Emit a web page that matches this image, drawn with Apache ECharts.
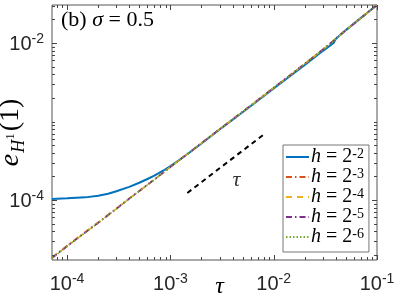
<!DOCTYPE html>
<html>
<head>
<meta charset="utf-8">
<script src="https://cdn.jsdelivr.net/npm/echarts@6/dist/echarts.min.js"></script>
<style>html,body{margin:0;padding:0;background:#fff}#c{width:395px;height:296px}</style>
</head>
<body>
<div id="c"></div>
<script>
// ---- data ----
const tau = [7.15e-5, 1e-4, 1.5e-4, 2e-4, 2.5e-4, 3e-4, 4e-4, 5e-4, 6e-4, 7e-4, 8.5e-4, 1e-3, 1.2e-3, 1.5e-3, 2e-3, 3e-3, 5e-3, 7e-3, 1e-2, 1.5e-2, 2e-2, 3e-2, 3.8e-2, 4e-2, 5e-2, 7e-2, 1e-1];
const eH2 = [1.03e-4, 1.05e-4, 1.08e-4, 1.13e-4, 1.2e-4, 1.29e-4, 1.47e-4, 1.66e-4, 1.85e-4, 2.04e-4, 2.36e-4, 2.7e-4, 3.18e-4, 3.94e-4, 5.25e-4, 7.9e-4, 1.31e-3, 1.84e-3, 2.64e-3, 3.95e-3, 5.25e-3, 7.95e-3, 1.0e-2, 1.13e-2, 1.46e-2, 2.09e-2, 3.05e-2];
const eH3 = [1.86e-5, 2.62e-5, 3.92e-5, 5.2e-5, 6.5e-5, 7.8e-5, 1.05e-4, 1.31e-4, 1.57e-4, 1.83e-4, 2.23e-4, 2.64e-4, 3.17e-4, 3.96e-4, 5.3e-4, 8.0e-4, 1.33e-3, 1.87e-3, 2.69e-3, 4.05e-3, 5.45e-3, 8.3e-3, 1.07e-2, 1.14e-2, 1.46e-2, 2.09e-2, 3.05e-2];
const eH4 = [1.83e-5, 2.58e-5, 3.86e-5, 5.12e-5, 6.42e-5, 7.72e-5, 1.04e-4, 1.30e-4, 1.56e-4, 1.82e-4, 2.22e-4, 2.63e-4, 3.16e-4, 3.95e-4, 5.3e-4, 8.0e-4, 1.33e-3, 1.87e-3, 2.69e-3, 4.05e-3, 5.45e-3, 8.3e-3, 1.07e-2, 1.14e-2, 1.46e-2, 2.09e-2, 3.05e-2];
const eH5 = [1.82e-5, 2.57e-5, 3.85e-5, 5.1e-5, 6.4e-5, 7.7e-5, 1.04e-4, 1.30e-4, 1.56e-4, 1.82e-4, 2.22e-4, 2.63e-4, 3.16e-4, 3.95e-4, 5.3e-4, 8.0e-4, 1.33e-3, 1.87e-3, 2.69e-3, 4.05e-3, 5.45e-3, 8.3e-3, 1.07e-2, 1.14e-2, 1.46e-2, 2.09e-2, 3.05e-2];
const eH6 = [1.82e-5, 2.57e-5, 3.85e-5, 5.1e-5, 6.4e-5, 7.7e-5, 1.04e-4, 1.30e-4, 1.56e-4, 1.82e-4, 2.22e-4, 2.63e-4, 3.16e-4, 3.95e-4, 5.3e-4, 8.0e-4, 1.33e-3, 1.87e-3, 2.69e-3, 4.05e-3, 5.45e-3, 8.3e-3, 1.07e-2, 1.14e-2, 1.46e-2, 2.09e-2, 3.05e-2];
const seriesNames = ['h2', 'h3', 'h4', 'h5', 'h6'];
const seriesExps = ['-2', '-3', '-4', '-5', '-6'];
const refTau = [1.46e-3, 7.9e-3];
const refE = [1.23e-4, 6.73e-4];
const refLabelPos = [4.35e-3, 1.8e-4];
const refLabel = 'τ';
const xMin = 7.15e-5, xMax = 0.1;
const yMin = 1.72e-5, yMax = 0.0305;
const xMajorTicks = [1e-4, 1e-3, 1e-2, 1e-1];
const xMinorTicks = [8e-5, 9e-5, 2e-4, 3e-4, 4e-4, 5e-4, 6e-4, 7e-4, 8e-4, 9e-4, 2e-3, 3e-3, 4e-3, 5e-3, 6e-3, 7e-3, 8e-3, 9e-3, 2e-2, 3e-2, 4e-2, 5e-2, 6e-2, 7e-2, 8e-2, 9e-2];
const yMajorTicks = [1e-4, 1e-2];
const yMinorTicks = [2e-5, 3e-5, 4e-5, 5e-5, 6e-5, 7e-5, 8e-5, 9e-5, 2e-4, 3e-4, 4e-4, 5e-4, 6e-4, 7e-4, 8e-4, 9e-4, 1e-3, 2e-3, 3e-3, 4e-3, 5e-3, 6e-3, 7e-3, 8e-3, 9e-3, 2e-2, 3e-2];
const xLabelExps = {'-4': '-4', '-3': '-3', '-2': '-2', '-1': '-1'};
const yLabelExps = {'-4': '-4', '-2': '-2'};

const colors = ['#0072BD', '#D95319', '#EDB120', '#7E2F8E', '#77AC30'];
const dashes = ['solid', [6, 3, 1.5, 3], [6, 5], [6, 3, 1.5, 3], [1.5, 2]];
const widths = [2, 1.6, 1.6, 1.6, 1.6];
const allE = [eH2, eH3, eH4, eH5, eH6];

const chart = echarts.init(document.getElementById('c'), null, {renderer: 'canvas'});

function expOf(v) {
  const e = Math.log10(v);
  const r = Math.round(e);
  return Math.abs(e - r) < 1e-6 ? String(r) : null;
}
const tickColor = '#444';
const labelRich = {
  b: {fontFamily: 'Liberation Sans', fontSize: 20, color: '#262626', lineHeight: 22, verticalAlign: 'bottom'},
  s: {fontFamily: 'Liberation Sans', fontSize: 14, color: '#262626', lineHeight: 22, verticalAlign: 'top'}
};

const tickData = [];
xMajorTicks.forEach(v => tickData.push([v, yMin, 0]));
xMinorTicks.forEach(v => tickData.push([v, yMin, 1]));
yMajorTicks.forEach(v => tickData.push([xMin, v, 2]));
yMinorTicks.forEach(v => tickData.push([xMin, v, 3]));

const lineSeries = seriesNames.map((n, i) => ({
  name: n,
  type: 'line',
  data: tau.map((t, k) => [t, allE[i][k]]),
  symbol: 'none',
  smooth: false,
  color: colors[i],
  lineStyle: {color: colors[i], width: widths[i], type: dashes[i]},
  z: 3 + i
}));

const option = {
  animation: false,
  backgroundColor: '#fff',
  title: {
    text: '{n|(b) }{i|σ}{n| = 0.5}',
    left: 56, top: 4,
    textStyle: {
      fontWeight: 'normal',
      rich: {
        n: {fontFamily: 'Liberation Serif', fontWeight: 'normal', fontSize: 22, color: '#000'},
        i: {fontFamily: 'Liberation Serif', fontWeight: 'normal', fontStyle: 'italic', fontSize: 22, color: '#000'}
      }
    }
  },
  grid: {left: 52, right: 18, top: 5, bottom: 36, containLabel: false, outerBoundsMode: 'none', show: true, borderColor: '#555', borderWidth: 1, backgroundColor: 'transparent'},
  legend: {
    data: seriesNames,
    orient: 'vertical',
    left: 283, top: 145,
    itemWidth: 23, itemHeight: 12, itemGap: 0,
    padding: [2, 5, 5, 2],
    backgroundColor: '#fff',
    borderColor: '#777', borderWidth: 1,
    itemStyle: {opacity: 0},
    formatter: function (name) {
      const i = seriesNames.indexOf(name);
      return '{i|h}{n| = 2}{s|' + seriesExps[i] + '}';
    },
    textStyle: {
      fontSize: 19, fontFamily: 'Liberation Serif',
      padding: [0, 0, 0, -3],
      rich: {
        i: {fontFamily: 'Liberation Serif', fontStyle: 'italic', fontSize: 20, lineHeight: 20, verticalAlign: 'bottom', color: '#000'},
        n: {fontFamily: 'Liberation Serif', fontSize: 20, lineHeight: 20, verticalAlign: 'bottom', color: '#000'},
        s: {fontFamily: 'Liberation Serif', fontSize: 14, lineHeight: 20, verticalAlign: 'top', color: '#000'}
      }
    }
  },
  xAxis: {
    type: 'log', logBase: 10, min: xMin, max: xMax,
    axisLine: {show: false}, axisTick: {show: false}, splitLine: {show: false}, minorTick: {show: false},
    axisLabel: {
      margin: 12, fontSize: 20, fontFamily: 'Liberation Sans', color: '#262626',
      hideOverlap: false,
      formatter: function (v) {
        const e = expOf(v);
        return e !== null && xLabelExps[e] ? '{b|10}{s|' + xLabelExps[e] + '}' : '';
      },
      rich: labelRich
    },
    name: 'τ', nameLocation: 'middle', nameGap: 15, nameMoveOverlap: false,
    nameTextStyle: {fontFamily: 'Liberation Serif', fontStyle: 'italic', fontSize: 24, color: '#000', padding: [0, 0, 0, 10]}
  },
  yAxis: {
    type: 'log', logBase: 10, min: yMin, max: yMax,
    axisLine: {show: false}, axisTick: {show: false}, splitLine: {show: false}, minorTick: {show: false},
    axisLabel: {
      margin: 8, fontSize: 20, fontFamily: 'Liberation Sans', color: '#262626',
      formatter: function (v) {
        const e = expOf(v);
        return e !== null && yLabelExps[e] ? '{b|10}{s|' + yLabelExps[e] + '}' : '';
      },
      rich: labelRich
    },
    name: '{e|e}{H|H}{o|1}{p|(1)}', nameLocation: 'middle', nameGap: 24, nameRotate: 90, nameMoveOverlap: false,
    nameTextStyle: {
      rich: {
        e: {fontFamily: 'Liberation Serif', fontStyle: 'italic', fontSize: 28, lineHeight: 34, verticalAlign: 'middle', color: '#000'},
        H: {fontFamily: 'Liberation Serif', fontStyle: 'italic', fontSize: 18, lineHeight: 34, verticalAlign: 'bottom', color: '#000', padding: [0, 0, 0, 1]},
        o: {fontFamily: 'Liberation Serif', fontSize: 13, lineHeight: 34, verticalAlign: 'middle', color: '#000', padding: [0, 2, 0, 0]},
        p: {fontFamily: 'Liberation Serif', fontSize: 28, lineHeight: 34, verticalAlign: 'middle', color: '#000'}
      }
    }
  },
  series: lineSeries.concat([
    {
      name: 'ref', type: 'line',
      data: refTau.map((t, k) => [t, refE[k]]),
      symbol: 'none',
      lineStyle: {color: '#000', width: 2, type: [5, 4]},
      z: 2
    },
    {
      name: 'refLabel', type: 'scatter',
      data: [refLabelPos],
      symbolSize: 0,
      label: {show: true, position: 'inside', formatter: refLabel, fontFamily: 'Liberation Serif', fontStyle: 'italic', fontSize: 22, color: '#000'},
      z: 2
    },
    {
      name: 'ticks', type: 'custom', silent: true, z: 10,
      data: tickData,
      encode: {x: 0, y: 1},
      renderItem: function (params, api) {
        const cs = params.coordSys;
        const kind = api.value(2);
        const len = (kind === 0 || kind === 2) ? 5 : 3;
        const st = {stroke: tickColor, lineWidth: 1};
        if (kind < 2) {
          const px = Math.round(api.coord([api.value(0), yMin])[0]) + 0.5;
          const yb = cs.y + cs.height;
          return {type: 'group', children: [
            {type: 'line', shape: {x1: px, y1: yb, x2: px, y2: yb - len}, style: st},
            {type: 'line', shape: {x1: px, y1: cs.y, x2: px, y2: cs.y + len}, style: st}
          ]};
        } else {
          const py = Math.round(api.coord([xMin, api.value(1)])[1]) + 0.5;
          const xr = cs.x + cs.width;
          return {type: 'group', children: [
            {type: 'line', shape: {x1: cs.x, y1: py, x2: cs.x + len, y2: py}, style: st},
            {type: 'line', shape: {x1: xr, y1: py, x2: xr - len, y2: py}, style: st}
          ]};
        }
      }
    }
  ])
};
chart.setOption(option);
</script>
</body>
</html>
